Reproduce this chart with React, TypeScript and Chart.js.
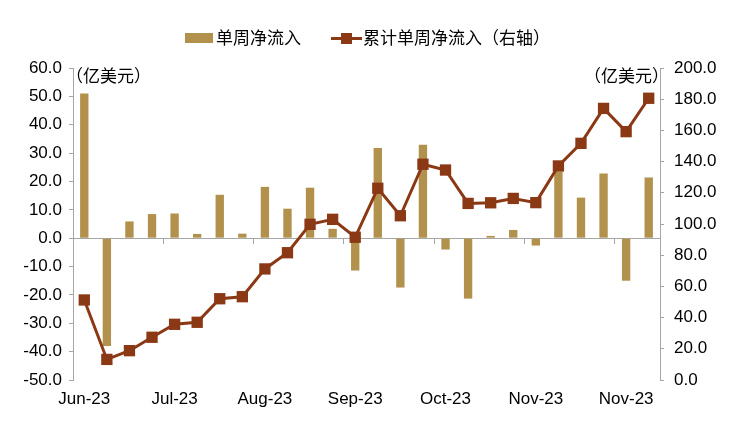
import React, { useEffect, useRef } from "react";
import { Chart, registerables } from "chart.js";

Chart.register(...registerables);

const categories = [
  "Jun-23", "Jun-23", "Jun-23", "Jun-23",
  "Jul-23", "Jul-23", "Jul-23", "Jul-23",
  "Aug-23", "Aug-23", "Aug-23", "Aug-23",
  "Sep-23", "Sep-23", "Sep-23", "Sep-23",
  "Oct-23", "Oct-23", "Oct-23", "Oct-23",
  "Nov-23", "Nov-23", "Nov-23", "Nov-23",
  "Nov-23", "Dec-23",
];

const weeklyFlow = [
  51.0, -38.0, 5.9, 8.5, 8.7, 1.5, 15.3, 1.6, 18.1, 10.4, 17.8, 3.3, -11.4,
  31.8, -17.4, 32.9, -4.0, -21.3, 0.8, 2.9, -2.6, 23.5, 14.3, 22.8, -15.0, 21.4,
];

const cumulativeFlow = [
  51.3, 13.2, 18.8, 27.4, 35.7, 37.0, 52.1, 53.4, 71.2, 81.6, 99.8, 103.0, 91.5,
  122.9, 105.3, 138.3, 134.6, 113.2, 113.6, 116.4, 113.7, 137.2, 151.7, 174.1,
  159.2, 180.6,
];

const seriesNames = ["单周净流入", "累计单周净流入（右轴）"];
const unitLabel = "（亿美元）";

const BAR_COLOR = "#B1914C";
const LINE_COLOR = "#8B3815";
const AXIS_COLOR = "#A6A6A6";
const NUM_FONT = "'Liberation Sans', Arial, sans-serif";
const CJK_FONT = "'Noto Sans CJK SC', 'Noto Sans', sans-serif";

export default function App() {
  const canvasRef = useRef<HTMLCanvasElement | null>(null);

  useEffect(() => {
    const canvas = canvasRef.current;
    if (!canvas) return;
    const chart = new Chart(canvas, {
      type: "bar",
      data: {
        labels: categories,
        datasets: [
          {
            type: "line",
            label: seriesNames[1],
            data: cumulativeFlow,
            yAxisID: "y1",
            xAxisID: "x",
            borderColor: LINE_COLOR,
            backgroundColor: LINE_COLOR,
            borderWidth: 3,
            pointStyle: "rect",
            pointRadius: 8,
            pointBorderWidth: 0,
            pointBackgroundColor: LINE_COLOR,
            tension: 0,
            order: 0,
          } as any,
          {
            type: "bar",
            label: seriesNames[0],
            data: weeklyFlow,
            yAxisID: "y",
            xAxisID: "x",
            backgroundColor: BAR_COLOR,
            borderWidth: 0,
            barPercentage: 0.37,
            categoryPercentage: 1,
            order: 1,
          },
        ],
      },
      options: {
        responsive: false,
        animation: false,
        devicePixelRatio: 1,
        layout: { padding: { top: 68, left: 0, right: 0, bottom: 0 } },
        plugins: {
          legend: { display: false },
          tooltip: { enabled: false },
        },
        scales: {
          x: {
            type: "category",
            position: { y: 0 } as any,
            offset: true,
            grid: {
              offset: true,
              drawOnChartArea: false,
              drawTicks: true,
              tickLength: 5,
              color: (ctx: any) =>
                typeof ctx.index === "number" && ctx.index > 0 && ctx.index % 4 === 0 && ctx.index < categories.length
                  ? AXIS_COLOR
                  : "rgba(0,0,0,0)",
            },
            border: { display: true, color: AXIS_COLOR, width: 1 },
            ticks: { display: false, autoSkip: false },
          },
          x2: {
            type: "category",
            position: "bottom",
            labels: categories,
            offset: true,
            grid: { display: false, drawTicks: false },
            border: { display: false },
            ticks: {
              autoSkip: false,
              maxRotation: 0,
              minRotation: 0,
              padding: 9,
              color: "#000",
              font: { family: NUM_FONT, size: 17 },
              callback: (_v: any, i: number) => (i % 4 === 0 ? categories[i] : ""),
            },
            afterFit: (s: any) => {
              s.height = 53;
            },
          },
          y: {
            position: "left",
            min: -50,
            max: 60,
            grid: {
              drawOnChartArea: false,
              drawTicks: true,
              tickLength: 4,
              color: AXIS_COLOR,
            },
            border: { display: true, color: AXIS_COLOR, width: 1 },
            ticks: {
              stepSize: 10,
              padding: 7,
              color: "#000",
              font: { family: NUM_FONT, size: 17 },
              callback: (v: any) => Number(v).toFixed(1),
            },
            afterFit: (s: any) => {
              s.width = 73;
            },
          },
          y1: {
            position: "right",
            min: 0,
            max: 200,
            grid: {
              drawOnChartArea: false,
              drawTicks: true,
              tickLength: 4,
              color: AXIS_COLOR,
            },
            border: { display: true, color: AXIS_COLOR, width: 1 },
            ticks: {
              stepSize: 20,
              padding: 10,
              color: "#000",
              font: { family: NUM_FONT, size: 17 },
              callback: (v: any) => Number(v).toFixed(1),
            },
            afterFit: (s: any) => {
              s.width = 71;
            },
          },
        },
      } as any,
    });
    return () => chart.destroy();
  }, []);

  const textStyle: React.CSSProperties = {
    position: "absolute",
    fontFamily: CJK_FONT,
    fontSize: 17,
    lineHeight: "17px",
    color: "#000",
    whiteSpace: "nowrap",
  };

  return (
    <div
      style={{
        position: "fixed",
        left: 0,
        top: 0,
        width: 731,
        height: 433,
        background: "#fff",
        overflow: "hidden",
      }}
    >
      <canvas ref={canvasRef} width={731} height={433} style={{ position: "absolute", left: 0, top: 0 }} />
      {/* legend */}
      <div style={{ position: "absolute", left: 185, top: 33, width: 28, height: 10, background: BAR_COLOR }} />
      <div style={{ ...textStyle, left: 216, top: 28 }}>{seriesNames[0]}</div>
      <div style={{ position: "absolute", left: 331, top: 37, width: 31, height: 3, background: LINE_COLOR }} />
      <div style={{ position: "absolute", left: 341, top: 33, width: 11, height: 11, background: LINE_COLOR }} />
      <div style={{ ...textStyle, left: 363, top: 28 }}>{seriesNames[1]}</div>
      {/* unit labels */}
      <div style={{ ...textStyle, left: 66, top: 66 }}>{unitLabel}</div>
      <div style={{ ...textStyle, left: 584, top: 66 }}>{unitLabel}</div>
    </div>
  );
}
